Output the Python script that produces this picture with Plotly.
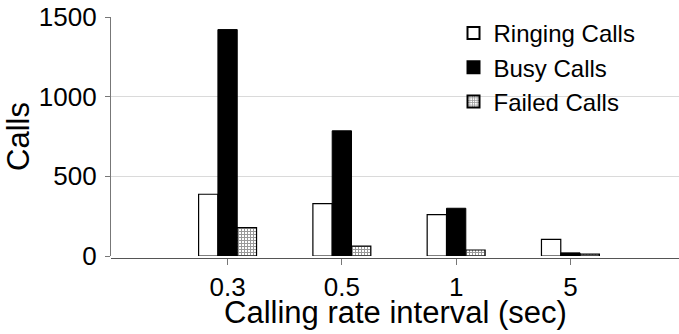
import plotly.graph_objects as go

intervals = ["0.3", "0.5", "1", "5"]
ringing_calls = [388, 329, 260, 105]
busy_calls = [1421, 786, 300, 20]
failed_calls = [178, 63, 38, 12]

FONT = "Liberation Sans, Arial, sans-serif"

fig = go.Figure()
fig.add_trace(go.Bar(
    name="Ringing Calls", x=intervals, y=ringing_calls,
    marker=dict(color="white", line=dict(color="black", width=1.2)),
))
fig.add_trace(go.Bar(
    name="Busy Calls", x=intervals, y=busy_calls,
    marker=dict(color="black", line=dict(color="black", width=1)),
))
fig.add_trace(go.Bar(
    name="Failed Calls", x=intervals, y=failed_calls,
    marker=dict(
        color="white",
        line=dict(color="black", width=1.2),
        pattern=dict(shape="+", size=3, solidity=0.55, fgcolor="#333333", bgcolor="white"),
    ),
))

# x-axis title placed just under the tick labels
fig.add_annotation(
    text="Calling rate interval (sec)", showarrow=False,
    xref="paper", yref="paper", x=0.5, y=-0.228,
    xanchor="center", yanchor="middle",
    font=dict(size=31, family=FONT, color="black"),
)

fig.update_layout(
    width=679, height=334,
    margin=dict(l=111, r=0, t=17, b=76),
    paper_bgcolor="white", plot_bgcolor="white",
    barmode="group", bargap=0.493, bargroupgap=0,
    font=dict(family=FONT, color="black", size=26),
    showlegend=True,
    legend=dict(
        x=0.603, xanchor="left", y=1.025, yanchor="top",
        bgcolor="rgba(0,0,0,0)", font=dict(size=24, family=FONT),
        itemsizing="constant", tracegroupgap=0,
    ),
    xaxis=dict(
        type="category", range=[-1.02, 3.95],
        anchor="free", position=0,
        showline=True, linecolor="#555555", linewidth=1.2,
        ticks="outside", ticklen=6, tickcolor="#777777", tickwidth=1.2,
        showgrid=False, zeroline=False,
        tickfont=dict(size=26),
    ),
    yaxis=dict(
        range=[0, 1500], domain=[0.008, 1],
        tickvals=[0, 500, 1000, 1500],
        showline=True, linecolor="#777777", linewidth=1.2,
        ticks="outside", ticklen=5, tickcolor="#777777",
        ticklabelstandoff=3,
        showgrid=True, gridcolor="#dadada", gridwidth=1,
        zeroline=False,
        tickfont=dict(size=26),
        title=dict(text="Calls", font=dict(size=31), standoff=0),
    ),
)

fig.write_html("out.html")
